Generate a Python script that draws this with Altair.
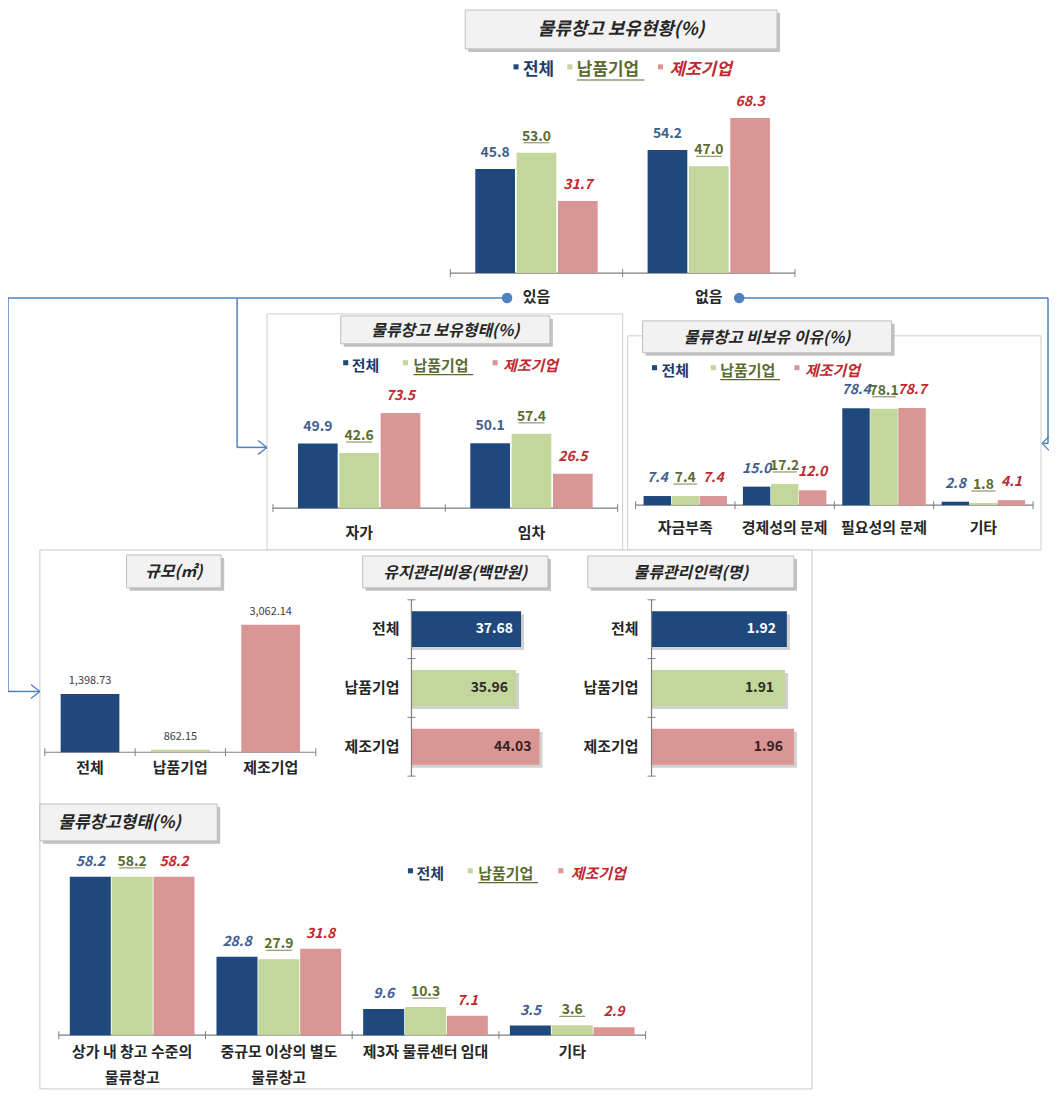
import altair as alt
import pandas as pd

FONT = "Noto Sans CJK KR"
SERIES = ["전체", "납품기업", "제조기업"]
BAR_COLORS = ["#1F497D", "#C3D69B", "#D99694"]
LBL_BLUE = "#3F5F8F"
LBL_GREEN = "#5C6B2E"
LBL_RED = "#C0282E"
LINE_BLUE = "#4F81BD"
AXIS = "#7F7F7F"
DARK = "#262626"

# ---- data ----
# 물류창고 보유현황(%)
a_cats = ["있음", "없음"]
a_total = [45.8, 54.2]
a_supply = [53.0, 47.0]
a_mfg = [31.7, 68.3]
# 물류창고 보유형태(%)
b_cats = ["자가", "임차"]
b_total = [49.9, 50.1]
b_supply = [42.6, 57.4]
b_mfg = [73.5, 26.5]
# 물류창고 비보유 이유(%)
c_cats = ["자금부족", "경제성의 문제", "필요성의 문제", "기타"]
c_total = [7.4, 15.0, 78.4, 2.8]
c_supply = [7.4, 17.2, 78.1, 1.8]
c_mfg = [7.4, 12.0, 78.7, 4.1]
# 규모(㎡)
d_cats = ["전체", "납품기업", "제조기업"]
d_values = [1398.73, 862.15, 3062.14]
d_drawn = [1398.73, 60.0, 3062.14]  # bar heights as drawn in the source (납품기업 bar is nearly flat)
# 유지관리비용(백만원)
e_cats = ["전체", "납품기업", "제조기업"]
e_values = [37.68, 35.96, 44.03]
# 물류관리인력(명)
f_cats = ["전체", "납품기업", "제조기업"]
f_values = [1.92, 1.91, 1.96]
# 물류창고형태(%)
g_cats = ["상가 내 창고 수준의\n물류창고", "중규모 이상의 별도\n물류창고", "제3자 물류센터 임대", "기타"]
g_total = [58.2, 28.8, 9.6, 3.5]
g_supply = [58.2, 27.9, 10.3, 3.6]
g_mfg = [58.2, 31.8, 7.1, 2.9]

W, H = 1045, 1084
ONE = alt.Data(values=[{"k": 1}])


def P(v):
    return v - 8


def rect(x0, y0, x1, y1, **kw):
    return alt.Chart(ONE).mark_rect(**kw).encode(
        x=alt.value(P(x0)), x2=alt.value(P(x1)), y=alt.value(P(y0)), y2=alt.value(P(y1)))


def line(x0, y0, x1, y1, color, w=1.0):
    return alt.Chart(ONE).mark_rule(color=color, strokeWidth=w).encode(
        x=alt.value(P(x0)), x2=alt.value(P(x1)), y=alt.value(P(y0)), y2=alt.value(P(y1)))


def text(x, y, s, **kw):
    return alt.Chart(ONE).mark_text(font=FONT, **kw).encode(
        x=alt.value(P(x)), y=alt.value(P(y)), text=alt.value(s))


def title_box(x0, y0, x1, y1, s, fs, cx=None):
    return [
        rect(x0 + 3, y0 + 3, x1 + 3, y1 + 3, fill="#A6A6A6", opacity=0.7),
        rect(x0, y0, x1, y1, fill="#F2F2F2", stroke="#BFBFBF", strokeWidth=1),
        text(cx if cx is not None else (x0 + x1) / 2, (y0 + y1) / 2 + 1, s, fontSize=fs,
             fontWeight="bold", fontStyle="italic", color=DARK, align="center", baseline="middle"),
    ]


def legend(sq, tx, y, fs):
    out = []
    styles = [(LBL_BLUE, "normal"), (LBL_GREEN, "normal"), (LBL_RED, "italic")]
    tcols = ["#1F3B6B", LBL_GREEN, LBL_RED]
    for i, s in enumerate(SERIES):
        out.append(alt.Chart(ONE).mark_square(color=BAR_COLORS[i], size=26, opacity=1).encode(
            x=alt.value(P(sq[i])), y=alt.value(P(y - 3))))
        out.append(text(tx[i], y, s, fontSize=fs, fontWeight="bold", fontStyle=styles[i][1],
                        color=tcols[i], align="left", baseline="middle"))
    out.append(line(tx[1], y + fs * 0.6, tx[1] + fs * 4, y + fs * 0.6, LBL_GREEN, 1.2))
    return out


def grouped(cats, vals, x0, x1, ybase, ppu, pad, opad, blue_italic, fs, lab_dy, cat_top, cat_fs,
            ul=26):
    rows = [{"cat": c, "s": s, "v": v} for s, vs in zip(SERIES, vals) for c, v in zip(cats, vs)]
    df = pd.DataFrame(rows)
    xs = alt.Scale(domain=cats, range=[P(x0), P(x1)], paddingInner=pad, paddingOuter=pad / 2)
    xo = alt.Scale(domain=SERIES, paddingInner=opad, paddingOuter=0)
    ys = alt.Scale(domain=[0, 100], range=[P(ybase), P(ybase) - 100 * ppu])
    X = alt.X("cat:N", scale=xs, axis=None, sort=cats)
    XO = alt.XOffset("s:N", scale=xo, sort=SERIES)
    Y = alt.Y("v:Q", scale=ys, axis=None)
    base = alt.Chart(df)
    layers = []
    # axis
    layers.append(line(x0, ybase, x1, ybase, AXIS, 1.2))
    n = len(cats)
    for i in range(n + 1):
        xt = x0 + (x1 - x0) * i / n
        layers.append(line(xt, ybase - 4, xt, ybase + 4, AXIS, 1))
    for s, col in zip(SERIES, BAR_COLORS):
        layers.append(base.transform_filter(alt.datum.s == s).mark_bar(color=col).encode(X, XO, Y))
    styles = [(LBL_BLUE, "italic" if blue_italic else "normal"), (LBL_GREEN, "normal"), (LBL_RED, "italic")]
    for s, (col, st) in zip(SERIES, styles):
        layers.append(base.transform_filter(alt.datum.s == s).mark_text(
            font=FONT, fontSize=fs, fontWeight="bold", fontStyle=st, color=col, dy=lab_dy,
            baseline="alphabetic").encode(X, XO, Y, text=alt.Text("v:Q", format=".1f")))
    layers.append(base.transform_filter(alt.datum.s == "납품기업").mark_tick(
        orient="horizontal", color=LBL_GREEN, thickness=1.2, size=ul, yOffset=lab_dy + 2).encode(X, XO, Y))
    cdf = pd.DataFrame({"cat": cats})
    layers.append(alt.Chart(cdf).mark_text(
        font=FONT, fontSize=cat_fs, fontWeight="bold", color=DARK, baseline="top",
        lineBreak="\n", lineHeight=26).encode(X, y=alt.value(P(cat_top)), text="cat:N"))
    return alt.layer(*layers)


L = []

# ---- frames ----
L.append(rect(268, 313, 625, 550, fill="white", stroke="#CFCFCF", strokeWidth=1))
L.append(rect(630, 335, 1045, 550, fill="white", stroke="#CFCFCF", strokeWidth=1))
L.append(rect(40, 550, 815, 1091, fill="white", stroke="#C8C8C8", strokeWidth=1))

# ---- connector lines ----
L += [
    line(8, 297, 509, 297, LINE_BLUE, 1.5),
    line(8, 297, 8, 692, LINE_BLUE, 1.5),
    line(8, 692, 40, 692, LINE_BLUE, 1.5),
    line(31, 685, 40, 692, LINE_BLUE, 1.3),
    line(31, 699, 40, 692, LINE_BLUE, 1.3),
    line(238, 297, 238, 447, LINE_BLUE, 1.5),
    line(238, 447, 268, 447, LINE_BLUE, 1.5),
    line(259, 440, 268, 447, LINE_BLUE, 1.3),
    line(259, 454, 268, 447, LINE_BLUE, 1.3),
    line(742, 297, 1052, 297, LINE_BLUE, 1.5),
    line(1052, 297, 1052, 443, LINE_BLUE, 1.5),
    line(1052, 443, 1047, 443, LINE_BLUE, 1.5),
    line(1053, 436, 1046, 443, LINE_BLUE, 1.3),
    line(1053, 450, 1046, 443, LINE_BLUE, 1.3),
]
for cx, cy in [(509, 297), (742, 297)]:
    L.append(alt.Chart(ONE).mark_circle(color=LINE_BLUE, size=110, opacity=1).encode(
        x=alt.value(P(cx)), y=alt.value(P(cy))))

# ---- A: 물류창고 보유현황 ----
L += title_box(467, 8, 780, 47, "물류창고 보유현황(%)", 18)
L += legend([518, 572, 663], [525, 579, 672], 68, 17)
L.append(grouped(a_cats, [a_total, a_supply, a_mfg], 452, 798, 272, 2.28, 0.29, 0.04, False,
                 14, -12, 289, 15))

# ---- B: 물류창고 보유형태 ----
L += title_box(342, 315, 552, 343, "물류창고 보유형태(%)", 16)
L += legend([347, 407, 497], [353, 415, 505], 365, 15)
L.append(grouped(b_cats, [b_total, b_supply, b_mfg], 274, 620, 508, 1.3, 0.29, 0.04, False,
                 14, -13, 526, 15))

# ---- C: 물류창고 비보유 이유 ----
L += title_box(645, 320, 895, 352, "물류창고 비보유 이유(%)", 16)
L += legend([657, 716, 800], [664, 723, 808], 370, 15)
L.append(grouped(c_cats, [c_total, c_supply, c_mfg], 638, 1037, 505, 1.24, 0.16, 0.02, True,
                 14, -14, 521, 15, ul=24))

# ---- D: 규모 ----
L += title_box(127, 555, 222, 588, "규모(㎡)", 16)
d_df = pd.DataFrame({"cat": d_cats, "v": d_values, "drawn": d_drawn})
dx = alt.X("cat:N", scale=alt.Scale(domain=d_cats, range=[P(45), P(317)], paddingInner=0.35,
                                    paddingOuter=0.175), axis=None, sort=d_cats)
dy = alt.Y("drawn:Q", scale=alt.Scale(domain=[0, 3500], range=[P(753), P(753) - 3500 * 0.0418]),
           axis=None)
d_layers = [line(45, 753, 317, 753, AXIS, 1.2)]
for i in range(4):
    xt = 45 + (317 - 45) * i / 3
    d_layers.append(line(xt, 749, xt, 757, AXIS, 1))
d_layers.append(alt.Chart(d_df).mark_bar().encode(
    dx, dy, color=alt.Color("cat:N", scale=alt.Scale(domain=d_cats, range=BAR_COLORS), legend=None)))
d_layers.append(alt.Chart(d_df).mark_text(font=FONT, fontSize=11, color="#404040", dy=-10,
                                         baseline="alphabetic").encode(
    dx, dy, text=alt.Text("v:Q", format=",.2f")))
d_layers.append(alt.Chart(d_df).mark_text(font=FONT, fontSize=15, fontWeight="bold", color=DARK,
                                         baseline="top").encode(dx, y=alt.value(P(762)), text="cat:N"))
L.append(alt.layer(*d_layers))


# ---- E / F: horizontal bars ----
def hbars(cats, vals, axis_x, domain, ppu, lab_x, label_dx, fmt, title, tb):
    df = pd.DataFrame({"cat": cats, "v": vals,
                       "tc": ["#FFFFFF", "#2B2B2B", "#3A2020"]})
    ys = alt.Scale(domain=cats, range=[P(600), P(777)], paddingInner=0.39, paddingOuter=0.195)
    xs = alt.Scale(domain=domain, range=[P(axis_x), P(axis_x) + (domain[1] - domain[0]) * ppu],
                   zero=False)
    Y = alt.Y("cat:N", scale=ys, axis=None, sort=cats)
    X = alt.X("v:Q", scale=xs, axis=None)
    X2 = alt.X2Datum(domain[0])
    layers = []
    layers += title_box(*tb, title, 16)
    layers.append(alt.Chart(df).mark_bar(color="#9A9A9A", opacity=0.45, xOffset=3, yOffset=3).encode(
        Y, X, X2))
    layers.append(alt.Chart(df).mark_bar().encode(
        Y, X, X2, color=alt.Color("cat:N", scale=alt.Scale(domain=cats, range=BAR_COLORS), legend=None)))
    layers.append(line(axis_x, 600, axis_x, 777, AXIS, 1.2))
    for yt in [600, 659, 718, 777]:
        layers.append(line(axis_x - 4, yt, axis_x + 4, yt, AXIS, 1))
    layers.append(alt.Chart(df).mark_text(font=FONT, fontSize=14, fontWeight="bold", align="right",
                                          baseline="middle", dx=label_dx).encode(
        Y, X, text=alt.Text("v:Q", format=fmt), color=alt.Color("tc:N", scale=None)))
    layers.append(alt.Chart(df).mark_text(font=FONT, fontSize=15, fontWeight="bold", align="right",
                                          baseline="middle", color=DARK).encode(
        Y, x=alt.value(P(lab_x)), text="cat:N"))
    return alt.layer(*layers)


L.append(hbars(e_cats, e_values, 413, [0, 50], 2.92, 401, -8, ".2f", "유지관리비용(백만원)",
               (364, 556, 550, 588)))
L.append(hbars(f_cats, f_values, 654, [1.165, 2.0], 179.9, 641, -11, ".2f", "물류관리인력(명)",
               (590, 556, 797, 588)))

# ---- G: 물류창고형태 ----
L += title_box(40, 805, 218, 842, "물류창고형태(%)", 17, cx=120)
L += legend([412, 472, 563], [418, 480, 573], 875, 15)
L.append(grouped(g_cats, [g_total, g_supply, g_mfg], 59, 648, 1037, 2.73, 0.15, 0.02, True,
                 14, -11, 1047, 15))

chart = alt.layer(*L).properties(
    width=W, height=H, padding=0, autosize=alt.AutoSizeParams(type="none"), background="white"
).resolve_scale(
    x="independent", y="independent", xOffset="independent", color="independent"
).configure_view(stroke=None)

chart.save("out.html", embed_options={"renderer": "svg", "actions": False})
